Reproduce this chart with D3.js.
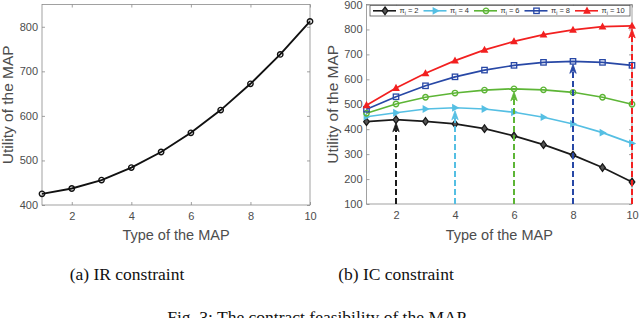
<!DOCTYPE html>
<html>
<head>
<meta charset="utf-8">
<script src="https://cdn.jsdelivr.net/npm/d3@7"></script>
<style>
  body { margin: 0; background: #fff; }
  svg { display: block; }
</style>
</head>
<body>
<svg id="chart" width="640" height="318"></svg>
<script>
// ---- data ----
const types = [1, 2, 3, 4, 5, 6, 7, 8, 9, 10];
const xTicks = [2, 4, 6, 8, 10];

// (a) IR constraint
const irUtility = [425, 437, 456, 484, 519, 562, 613, 672, 738, 812];
const irYTicks = [400, 500, 600, 700, 800];

// (b) IC constraint, one series per pi_i
const icPi = [2, 4, 6, 8, 10];
const icPi2 = [430, 438, 431, 421, 402, 373, 338, 296, 246, 188];
const icPi4 = [450, 466, 481, 486, 481, 468, 448, 421, 386, 343];
const icPi6 = [464, 501, 528, 545, 557, 562, 558, 548, 528, 500];
const icPi8 = [480, 530, 574, 610, 637, 656, 668, 672, 668, 656];
const icPi10 = [496, 565, 624, 675, 718, 752, 779, 798, 811, 814];
const icYTicks = [100, 200, 300, 400, 500, 600, 700, 800, 900];

const captions = ['(a) IR constraint', '(b) IC constraint'];
const figCaption = 'Fig. 3: The contract feasibility of the MAP.';

// ---- styles ----
const axisColor = '#8a8a8a';
const tickTextColor = '#4d4d4d';
const sansFont = '"Liberation Sans", Arial, Helvetica, sans-serif';
const serifFont = '"Liberation Serif", "Times New Roman", serif';

const icSeries = [
  { pi: icPi[0], values: icPi2, color: '#1a1a1a', marker: 'diamond' },
  { pi: icPi[1], values: icPi4, color: '#55bfe3', marker: 'triRight' },
  { pi: icPi[2], values: icPi6, color: '#5db536', marker: 'circle' },
  { pi: icPi[3], values: icPi8, color: '#2848a6', marker: 'square' },
  { pi: icPi[4], values: icPi10, color: '#f22020', marker: 'triUp' },
];

const svg = d3.select('#chart');
svg.append('rect').attr('width', 640).attr('height', 318).attr('fill', '#fff');

// draw a marker of a given kind centred at (0,0) into group g
function drawMarker(g, kind, color) {
  if (kind === 'circle') {
    g.append('circle').attr('r', 2.7).attr('fill', 'none')
      .attr('stroke', color).attr('stroke-width', 1.4);
  } else if (kind === 'square') {
    g.append('rect').attr('x', -2.7).attr('y', -2.7).attr('width', 5.4).attr('height', 5.4)
      .attr('fill', 'none').attr('stroke', color).attr('stroke-width', 1.3);
  } else if (kind === 'diamond') {
    g.append('path').attr('d', 'M0,-3.8L2.8,0L0,3.8L-2.8,0Z')
      .attr('fill', '#555').attr('stroke', color).attr('stroke-width', 1.3);
  } else if (kind === 'triUp') {
    g.append('path').attr('d', 'M0,-4.2L3.9,2.9L-3.9,2.9Z').attr('fill', color);
  } else if (kind === 'triRight') {
    g.append('path').attr('d', 'M4.2,0L-2.9,3.9L-2.9,-3.9Z').attr('fill', color);
  }
}

// axes box with inward ticks on all four sides, MATLAB style
function drawFrame(x, y, yTicks, yLabel) {
  const [x0, x1] = x.range();
  const [y0, y1] = y.range(); // y0 bottom, y1 top
  const g = svg.append('g');

  const styleAxis = (sel) => {
    sel.select('.domain').remove();
    sel.selectAll('line').attr('stroke', axisColor).attr('stroke-width', 0.8);
    sel.selectAll('text').attr('fill', tickTextColor)
      .style('font-family', sansFont).style('font-size', '11px');
  };

  g.append('g').attr('transform', `translate(0,${y0})`)
    .call(d3.axisBottom(x).tickValues(xTicks).tickSizeInner(-3).tickSizeOuter(0).tickPadding(7))
    .call(styleAxis);
  g.append('g').attr('transform', `translate(0,${y1})`)
    .call(d3.axisTop(x).tickValues(xTicks).tickSizeInner(-3).tickSizeOuter(0).tickFormat(''))
    .call(styleAxis);
  g.append('g').attr('transform', `translate(${x0},0)`)
    .call(d3.axisLeft(y).tickValues(yTicks).tickSizeInner(-3).tickSizeOuter(0).tickPadding(4))
    .call(styleAxis);
  g.append('g').attr('transform', `translate(${x1},0)`)
    .call(d3.axisRight(y).tickValues(yTicks).tickSizeInner(-3).tickSizeOuter(0).tickFormat(''))
    .call(styleAxis);

  g.append('rect').attr('x', x0).attr('y', y1).attr('width', x1 - x0).attr('height', y0 - y1)
    .attr('fill', 'none').attr('stroke', axisColor).attr('stroke-width', 0.8);

  // axis titles
  g.append('text').attr('x', (x0 + x1) / 2).attr('y', 240).attr('text-anchor', 'middle')
    .attr('fill', tickTextColor).style('font-family', sansFont).style('font-size', '14.5px')
    .text('Type of the MAP');
  g.append('text')
    .attr('transform', `translate(${x0 - 34},${(y0 + y1) / 2}) rotate(-90)`)
    .attr('text-anchor', 'middle').attr('dy', '0.35em')
    .attr('fill', tickTextColor).style('font-family', sansFont).style('font-size', '15.5px')
    .text(yLabel);
}

// ---- (a) IR constraint ----
const xA = d3.scaleLinear().domain([1, 10]).range([42, 310]);
const yA = d3.scaleLinear().domain([400, 850]).range([205, 4.5]);
drawFrame(xA, yA, irYTicks, 'Utility of the MAP');

const lineA = d3.line().x((d, i) => xA(types[i])).y((d) => yA(d));
svg.append('path').datum(irUtility).attr('d', lineA)
  .attr('fill', 'none').attr('stroke', '#111').attr('stroke-width', 1.9);
irUtility.forEach((v, i) => {
  const m = svg.append('g').attr('transform', `translate(${xA(types[i])},${yA(v)})`);
  drawMarker(m, 'circle', '#111');
});

// ---- (b) IC constraint ----
const xB = d3.scaleLinear().domain([1, 10]).range([366.5, 632]);
const yB = d3.scaleLinear().domain([100, 900]).range([204, 4.5]);
drawFrame(xB, yB, icYTicks, 'Utility of the MAP');

const lineB = d3.line().x((d, i) => xB(types[i])).y((d) => yB(d));
icSeries.forEach((s) => {
  svg.append('path').datum(s.values).attr('d', lineB)
    .attr('fill', 'none').attr('stroke', s.color).attr('stroke-width', 1.7);
  s.values.forEach((v, i) => {
    const m = svg.append('g').attr('transform', `translate(${xB(types[i])},${yB(v)})`);
    drawMarker(m, s.marker, s.color);
  });
});

// dashed arrows from the bottom up to each series' maximum
icSeries.forEach((s) => {
  const iMax = d3.maxIndex(s.values);
  const ax = xB(types[iMax]);
  const tip = yB(s.values[iMax]) + 3;
  svg.append('line').attr('x1', ax).attr('x2', ax).attr('y1', yB(100)).attr('y2', tip + 7)
    .attr('stroke', s.color).attr('stroke-width', 2).attr('stroke-dasharray', '6,3');
  svg.append('path')
    .attr('d', `M${ax},${tip}L${ax + 3.2},${tip + 9}L${ax},${tip + 6.5}L${ax - 3.2},${tip + 9}Z`)
    .attr('fill', s.color).attr('stroke', s.color).attr('stroke-width', 0.8);
});

// legend
const leg = svg.append('g');
leg.append('rect').attr('x', 370).attr('y', 5.5).attr('width', 260).attr('height', 10.5)
  .attr('fill', '#fff').attr('stroke', '#555').attr('stroke-width', 0.8);
icSeries.forEach((s, i) => {
  const lx = 373 + i * 50.5;
  const ly = 10.8;
  leg.append('line').attr('x1', lx).attr('x2', lx + 23).attr('y1', ly).attr('y2', ly)
    .attr('stroke', s.color).attr('stroke-width', 1.6);
  const m = leg.append('g').attr('transform', `translate(${lx + 12},${ly})`);
  drawMarker(m, s.marker, s.color);
  const t = leg.append('text').attr('x', lx + 26.5).attr('y', ly + 2.5)
    .attr('fill', '#333').style('font-family', sansFont).style('font-size', '7.5px');
  t.append('tspan').text('π');
  t.append('tspan').attr('dy', 2).style('font-size', '5px').text('i');
  t.append('tspan').attr('dy', -2).text(` = ${s.pi}`);
});

// ---- captions ----
svg.append('text').attr('x', 127).attr('y', 280).attr('text-anchor', 'middle')
  .style('font-family', serifFont).style('font-size', '17.5px').attr('fill', '#111')
  .text(captions[0]);
svg.append('text').attr('x', 396).attr('y', 280).attr('text-anchor', 'middle')
  .style('font-family', serifFont).style('font-size', '17.5px').attr('fill', '#111')
  .text(captions[1]);
// figure caption, cut by the bottom edge as in the source crop
svg.append('text').attr('x', 318).attr('y', 323).attr('text-anchor', 'middle')
  .style('font-family', serifFont).style('font-size', '17.5px').attr('fill', '#111')
  .text(figCaption);
</script>
</body>
</html>
